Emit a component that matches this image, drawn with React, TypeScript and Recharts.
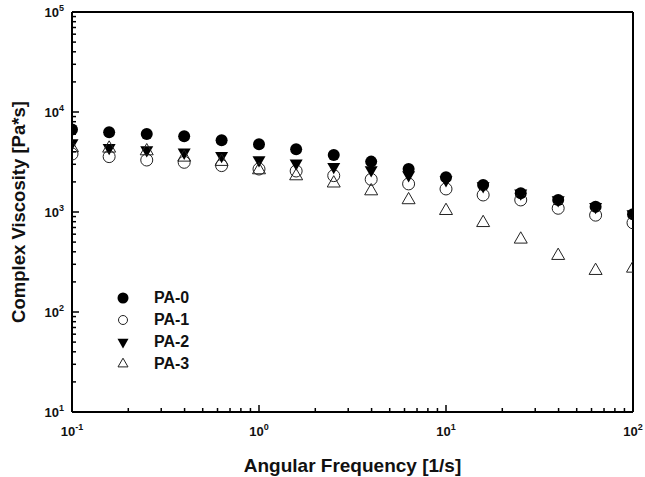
import React from 'react'
import {
  ScatterChart,
  Scatter,
  XAxis,
  YAxis,
  Legend,
  ReferenceLine,
} from 'recharts'

// angular frequency [1/s], shared by all samples
const FREQ = [0.1, 0.158, 0.251, 0.398, 0.631, 1, 1.58, 2.51, 3.98, 6.31, 10, 15.8, 25.1, 39.8, 63.1, 100]

// complex viscosity [Pa*s]
const PA0 = [6700, 6270, 6030, 5710, 5210, 4750, 4240, 3720, 3190, 2690, 2220, 1860, 1540, 1320, 1130, 950]
const PA1 = [3800, 3580, 3310, 3140, 2910, 2690, 2570, 2310, 2120, 1910, 1700, 1480, 1320, 1090, 930, 780]
const PA2 = [4900, 4400, 4170, 3950, 3660, 3310, 3070, 2840, 2630, 2340, 2090, 1820, 1540, 1320, 1130, 955]
const PA3 = [4370, 4330, 4070, 3520, 3190, 2630, 2290, 1940, 1620, 1320, 1030, 780, 533, 366, 259, 273]

const X_TICKS = [0.1, 0.2, 0.3, 0.4, 0.5, 0.6, 0.7, 0.8, 0.9, 1, 2, 3, 4, 5, 6, 7, 8, 9, 10, 20, 30, 40, 50, 60, 70, 80, 90, 100]
const Y_TICKS = [
  10, 20, 30, 40, 50, 60, 70, 80, 90,
  100, 200, 300, 400, 500, 600, 700, 800, 900,
  1000, 2000, 3000, 4000, 5000, 6000, 7000, 8000, 9000,
  10000, 20000, 30000, 40000, 50000, 60000, 70000, 80000, 90000, 100000,
]

const FONT = '"Liberation Sans", Arial, sans-serif'

const toPoints = (ys: number[]) => FREQ.map((f, i) => ({ x: f, y: ys[i] }))

type MarkerKind = 'dot' | 'ring' | 'down' | 'up'

const Marker = ({ kind, cx, cy, s }: { kind: MarkerKind; cx: number; cy: number; s: number }) => {
  if (kind === 'dot') return <circle cx={cx} cy={cy} r={s / 2} fill="#000" />
  if (kind === 'ring') return <circle cx={cx} cy={cy} r={s / 2 - 0.5} fill="none" stroke="#222" strokeWidth={1} />
  const h = s * 0.87
  if (kind === 'down') {
    return (
      <polygon
        points={`${cx - s / 2},${cy - h / 3} ${cx + s / 2},${cy - h / 3} ${cx},${cy + (2 * h) / 3}`}
        fill="#000"
      />
    )
  }
  return (
    <polygon
      points={`${cx - s / 2},${cy + h / 3} ${cx + s / 2},${cy + h / 3} ${cx},${cy - (2 * h) / 3}`}
      fill="none"
      stroke="#222"
      strokeWidth={1}
    />
  )
}

const SERIES: { name: string; data: number[]; kind: MarkerKind }[] = [
  { name: 'PA-0', data: PA0, kind: 'dot' },
  { name: 'PA-1', data: PA1, kind: 'ring' },
  { name: 'PA-2', data: PA2, kind: 'down' },
  { name: 'PA-3', data: PA3, kind: 'up' },
]

const isDecade = (v: number) => Math.abs(Math.log10(v) - Math.round(Math.log10(v))) < 1e-6

const XTick = (props: any) => {
  const { x, y, payload } = props
  const v = payload.value
  const major = isDecade(v)
  return (
    <g>
      <line x1={x} x2={x} y1={y} y2={y - (major ? 7 : 4)} stroke="#000" strokeWidth={1.5} />
      {major && (
        <text x={x} y={y + 24} textAnchor="middle" fontFamily={FONT} fontWeight="bold" fontSize={13} fill="#111">
          10
          <tspan dy={-6} fontSize={9}>
            {Math.round(Math.log10(v))}
          </tspan>
        </text>
      )}
    </g>
  )
}

const YTick = (props: any) => {
  const { x, y, payload } = props
  const v = payload.value
  const major = isDecade(v)
  return (
    <g>
      <line x1={x} x2={x + (major ? 7 : 4)} y1={y} y2={y} stroke="#000" strokeWidth={1.5} />
      {major && (
        <text x={x - 8} y={y + 5} textAnchor="end" fontFamily={FONT} fontWeight="bold" fontSize={13} fill="#111">
          10
          <tspan dy={-6} fontSize={9}>
            {Math.round(Math.log10(v))}
          </tspan>
        </text>
      )}
    </g>
  )
}

const LegendBox = () => (
  <div style={{ fontFamily: FONT, fontWeight: 'bold', fontSize: 16, color: '#111' }}>
    {SERIES.map((s) => (
      <div key={s.name} style={{ display: 'flex', alignItems: 'center', height: 22 }}>
        <svg width={22} height={14} style={{ marginRight: 20 }}>
          <Marker kind={s.kind} cx={11} cy={7} s={s.kind === 'ring' || s.kind === 'up' ? 10 : 11} />
        </svg>
        <span>{s.name}</span>
      </div>
    ))}
  </div>
)

export default function App() {
  return (
    <div style={{ position: 'absolute', left: 0, top: 0, width: 645, height: 477, background: '#fff' }}>
      <ScatterChart width={645} height={477} margin={{ top: 12, right: 12, bottom: 0, left: 0 }}>
        <XAxis
          type="number"
          dataKey="x"
          scale="log"
          domain={[0.1, 100]}
          allowDataOverflow
          ticks={X_TICKS}
          interval={0}
          height={65}
          tickSize={0}
          tickMargin={0}
          tickLine={false}
          tick={<XTick />}
          axisLine={{ stroke: '#000', strokeWidth: 2 }}
          label={{
            content: ({ viewBox }: any) => (
              <text
                x={viewBox.x + viewBox.width / 2}
                y={viewBox.y + 60}
                textAnchor="middle"
                fontFamily={FONT}
                fontWeight="bold"
                fontSize={19}
                fill="#111"
              >
                Angular Frequency [1/s]
              </text>
            ),
          }}
        />
        <YAxis
          type="number"
          dataKey="y"
          scale="log"
          domain={[10, 100000]}
          allowDataOverflow
          ticks={Y_TICKS}
          interval={0}
          width={72}
          tickSize={0}
          tickMargin={0}
          tickLine={false}
          tick={<YTick />}
          axisLine={{ stroke: '#000', strokeWidth: 2 }}
          label={{
            content: ({ viewBox }: any) => {
              const cy = viewBox.y + viewBox.height / 2
              return (
                <text
                  transform={`translate(${viewBox.x + 25},${cy}) rotate(-90)`}
                  textAnchor="middle"
                  fontFamily={FONT}
                  fontWeight="bold"
                  fontSize={18.5}
                  fill="#111"
                >
                  Complex Viscosity [Pa*s]
                </text>
              )
            },
          }}
        />
        <ReferenceLine y={100000} stroke="#000" strokeWidth={2} ifOverflow="visible" />
        <ReferenceLine x={100} stroke="#000" strokeWidth={2} ifOverflow="visible" />
        <Legend
          layout="vertical"
          align="center"
          verticalAlign="middle"
          content={<LegendBox />}
          wrapperStyle={{ left: 112, top: 287, width: 120 }}
        />
        {SERIES.map((s) => (
          <Scatter
            key={s.name}
            name={s.name}
            data={toPoints(s.data)}
            isAnimationActive={false}
            shape={(p: any) => <Marker kind={s.kind} cx={p.cx} cy={p.cy} s={s.kind === 'dot' ? 12 : 13} />}
          />
        ))}
      </ScatterChart>
    </div>
  )
}
